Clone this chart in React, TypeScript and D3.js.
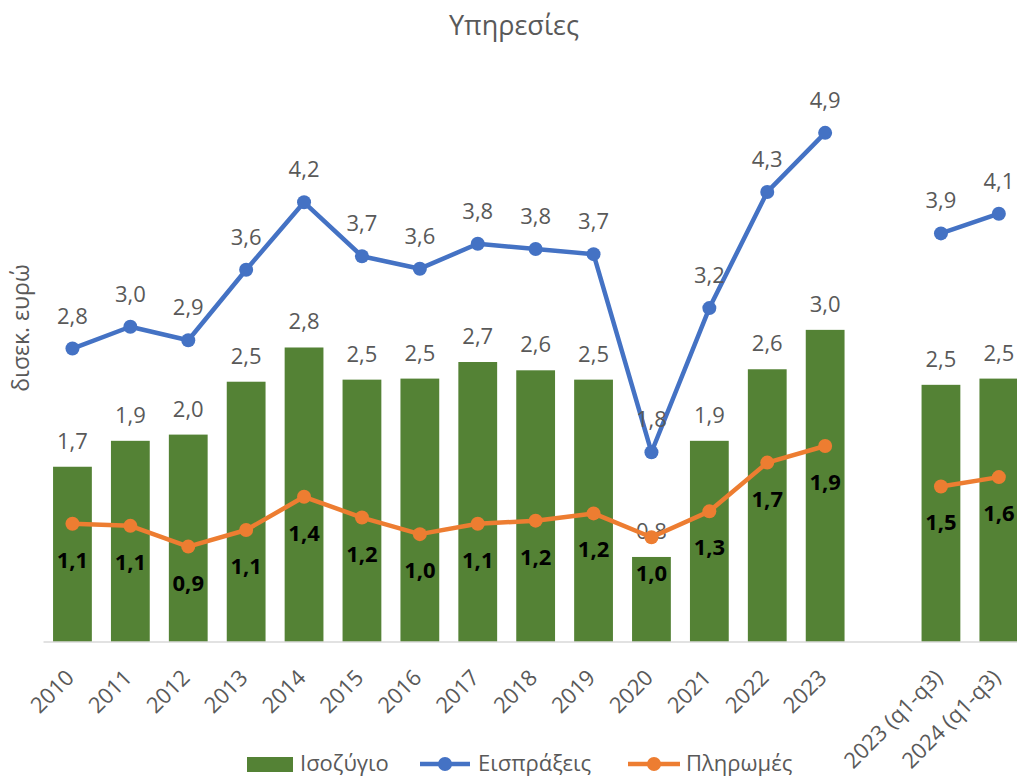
import React from 'react';
import * as d3 from 'd3';

// categories (blank slot separates the annual and q1-q3 figures)
const categories = ['2010', '2011', '2012', '2013', '2014', '2015', '2016', '2017', '2018', '2019', '2020', '2021', '2022', '2023', '', '2023 (q1-q3)', '2024 (q1-q3)'];

const balance = [1.69, 1.94, 2.0, 2.51, 2.84, 2.53, 2.54, 2.7, 2.62, 2.53, 0.82, 1.94, 2.63, 3.01, null, 2.48, 2.54];
const receipts = [2.83, 3.04, 2.91, 3.59, 4.24, 3.72, 3.6, 3.84, 3.79, 3.74, 1.83, 3.22, 4.34, 4.91, null, 3.94, 4.13];
const payments = [1.14, 1.12, 0.92, 1.08, 1.4, 1.2, 1.04, 1.14, 1.17, 1.24, 1.01, 1.26, 1.73, 1.89, null, 1.5, 1.59];

const seriesNames = ['Ισοζύγιο', 'Εισπράξεις', 'Πληρωμές'];
const title = 'Υπηρεσίες';
const yLabel = 'δισεκ. ευρώ';

const width = 1017;
const height = 778;
const font = '"Open Sans", "Noto Sans", sans-serif';
const grey = '#595959';
const green = '#548235';
const blue = '#4472C4';
const orange = '#ED7D31';

const fmt = (v: number) => d3.format('.1f')(v).replace('.', ',');

export default function App() {
  const x = d3.scaleBand<string>()
    .domain(categories.map((c, i) => c || `gap${i}`))
    .range([43.5, 1027.8])
    .paddingInner(0.33)
    .paddingOuter(0.165);

  const y = d3.scaleLinear().domain([0, 5]).range([642, 123.5]);

  const key = (i: number) => categories[i] || `gap${i}`;
  const cx = (i: number) => (x(key(i)) as number) + x.bandwidth() / 2;

  const line = d3.line<number | null>()
    .defined(d => d != null)
    .x((d, i) => cx(i))
    .y(d => y(d as number));

  const legendY = 764;

  return (
    <svg width={width} height={height} style={{ position: 'absolute', left: 0, top: 0, overflow: 'hidden' }}>
      <rect width={width} height={height} fill="#fff" />
      <text x={514} y={35} textAnchor="middle" fontFamily={font} fontSize={27} fill={grey}>{title}</text>
      <text transform="translate(29,328) rotate(-90)" textAnchor="middle" fontFamily={font} fontSize={23} fill={grey}>{yLabel}</text>

      {balance.map((v, i) => v == null ? null : (
        <g key={`b${i}`}>
          <rect x={x(key(i))} y={y(v)} width={x.bandwidth()} height={y(0) - y(v)} fill={green} />
          <text x={cx(i)} y={y(v) - 18} textAnchor="middle" fontFamily={font} fontSize={22} fill={grey}>{fmt(v)}</text>
        </g>
      ))}

      <line x1={43.5} x2={width} y1={y(0)} y2={y(0)} stroke="#d9d9d9" strokeWidth={1.5} />

      <path d={line(receipts) || ''} fill="none" stroke={blue} strokeWidth={4.5} strokeLinejoin="round" />
      <path d={line(payments) || ''} fill="none" stroke={orange} strokeWidth={4.5} strokeLinejoin="round" />

      {receipts.map((v, i) => v == null ? null : (
        <g key={`r${i}`}>
          <circle cx={cx(i)} cy={y(v)} r={7} fill={blue} />
          <text x={cx(i)} y={y(v) - 25} textAnchor="middle" fontFamily={font} fontSize={22} fill={grey}>{fmt(v)}</text>
        </g>
      ))}

      {payments.map((v, i) => v == null ? null : (
        <g key={`p${i}`}>
          <circle cx={cx(i)} cy={y(v)} r={7} fill={orange} />
          <text x={cx(i)} y={y(v) + 44} textAnchor="middle" fontFamily={font} fontSize={22} fontWeight="bold" fill="#000">{fmt(v)}</text>
        </g>
      ))}

      {categories.map((c, i) => c ? (
        <text key={`x${i}`} transform={`translate(${cx(i) + 3},${679}) rotate(-45)`} textAnchor="end" fontFamily={font} fontSize={22} fill={grey}>{c}</text>
      ) : null)}

      <g fontFamily={font} fontSize={22} fill={grey}>
        <rect x={247} y={legendY - 7} width={46} height={15} fill={green} />
        <text x={300} y={legendY + 7}>{seriesNames[0]}</text>
        <line x1={420} x2={470} y1={legendY} y2={legendY} stroke={blue} strokeWidth={4.5} />
        <circle cx={445} cy={legendY} r={7} fill={blue} />
        <text x={478} y={legendY + 7}>{seriesNames[1]}</text>
        <line x1={628} x2={680} y1={legendY} y2={legendY} stroke={orange} strokeWidth={4.5} />
        <circle cx={654} cy={legendY} r={7} fill={orange} />
        <text x={686} y={legendY + 7}>{seriesNames[2]}</text>
      </g>
    </svg>
  );
}
